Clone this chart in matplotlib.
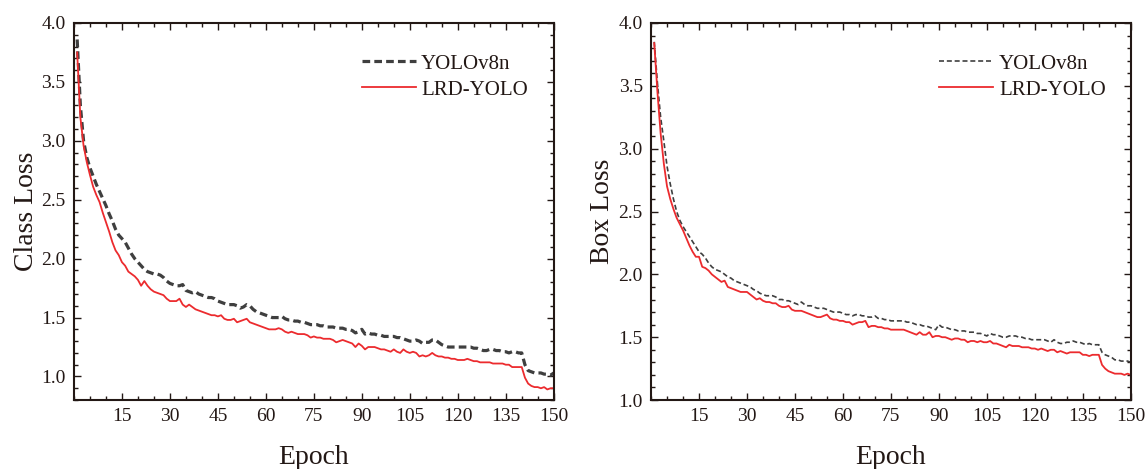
#!/usr/bin/env python3
# -*- coding: utf-8 -*-
"""
Training loss curves: YOLOv8n vs LRD-YOLO (class loss and box loss)
"""
import matplotlib.pyplot as plt
from matplotlib.ticker import MultipleLocator, FormatStrFormatter

epochs = list(range(1, 151))

cls_yolov8n = [
    3.86, 3.30, 3.00, 2.86, 2.77, 2.70, 2.63, 2.57, 2.51, 2.45,
    2.38, 2.32, 2.25, 2.20, 2.17, 2.14, 2.09, 2.04, 2.00, 1.97,
    1.94, 1.91, 1.89, 1.88, 1.87, 1.87, 1.86, 1.84, 1.81, 1.79,
    1.78, 1.77, 1.77, 1.78, 1.73, 1.72, 1.71, 1.72, 1.70, 1.69,
    1.68, 1.67, 1.67, 1.66, 1.64, 1.63, 1.62, 1.61, 1.61, 1.61,
    1.60, 1.58, 1.59, 1.61, 1.60, 1.57, 1.55, 1.54, 1.53, 1.52,
    1.51, 1.50, 1.50, 1.50, 1.51, 1.49, 1.48, 1.48, 1.47, 1.47,
    1.46, 1.46, 1.45, 1.44, 1.44, 1.44, 1.43, 1.43, 1.42, 1.42,
    1.42, 1.41, 1.41, 1.41, 1.40, 1.40, 1.39, 1.37, 1.38, 1.40,
    1.36, 1.37, 1.36, 1.36, 1.35, 1.35, 1.34, 1.34, 1.34, 1.34,
    1.33, 1.33, 1.32, 1.31, 1.30, 1.30, 1.31, 1.30, 1.28, 1.29,
    1.29, 1.31, 1.31, 1.29, 1.27, 1.26, 1.25, 1.25, 1.25, 1.25,
    1.25, 1.25, 1.25, 1.25, 1.24, 1.24, 1.23, 1.22, 1.22, 1.23,
    1.23, 1.22, 1.22, 1.21, 1.21, 1.20, 1.21, 1.21, 1.20, 1.20,
    1.10, 1.05, 1.04, 1.03, 1.03, 1.03, 1.02, 1.02, 1.01, 1.03]

cls_lrd = [
    3.75, 3.20, 2.96, 2.82, 2.71, 2.61, 2.54, 2.48, 2.39, 2.31,
    2.23, 2.14, 2.07, 2.03, 1.97, 1.94, 1.89, 1.87, 1.85, 1.82,
    1.77, 1.81, 1.77, 1.74, 1.72, 1.71, 1.70, 1.69, 1.66, 1.64,
    1.64, 1.64, 1.66, 1.61, 1.59, 1.61, 1.59, 1.57, 1.56, 1.55,
    1.54, 1.53, 1.52, 1.52, 1.51, 1.52, 1.49, 1.48, 1.48, 1.49,
    1.46, 1.47, 1.48, 1.49, 1.46, 1.45, 1.44, 1.43, 1.42, 1.41,
    1.40, 1.40, 1.40, 1.41, 1.40, 1.38, 1.37, 1.38, 1.37, 1.36,
    1.36, 1.36, 1.35, 1.33, 1.34, 1.33, 1.33, 1.32, 1.32, 1.32,
    1.31, 1.29, 1.30, 1.31, 1.30, 1.29, 1.28, 1.25, 1.28, 1.26,
    1.23, 1.25, 1.25, 1.25, 1.24, 1.23, 1.23, 1.22, 1.21, 1.23,
    1.21, 1.20, 1.23, 1.21, 1.20, 1.21, 1.20, 1.17, 1.18, 1.17,
    1.18, 1.20, 1.18, 1.17, 1.17, 1.16, 1.16, 1.15, 1.15, 1.14,
    1.14, 1.14, 1.15, 1.14, 1.13, 1.13, 1.12, 1.12, 1.12, 1.12,
    1.11, 1.11, 1.11, 1.11, 1.10, 1.10, 1.08, 1.08, 1.08, 1.08,
    0.99, 0.94, 0.92, 0.91, 0.91, 0.90, 0.91, 0.89, 0.90, 0.90]

box_yolov8n = [
    3.85, 3.52, 3.25, 3.06, 2.86, 2.72, 2.60, 2.50, 2.43, 2.38,
    2.34, 2.30, 2.26, 2.22, 2.18, 2.16, 2.13, 2.09, 2.06, 2.04,
    2.03, 2.02, 2.00, 1.98, 1.97, 1.95, 1.94, 1.93, 1.92, 1.91,
    1.90, 1.88, 1.87, 1.85, 1.84, 1.83, 1.83, 1.83, 1.82, 1.80,
    1.80, 1.79, 1.79, 1.78, 1.77, 1.76, 1.78, 1.76, 1.75, 1.75,
    1.74, 1.73, 1.73, 1.73, 1.72, 1.71, 1.70, 1.70, 1.70, 1.69,
    1.68, 1.68, 1.67, 1.68, 1.68, 1.67, 1.67, 1.66, 1.66, 1.67,
    1.65, 1.65, 1.64, 1.64, 1.63, 1.63, 1.63, 1.63, 1.63, 1.62,
    1.62, 1.61, 1.60, 1.60, 1.59, 1.59, 1.58, 1.57, 1.56, 1.60,
    1.58, 1.58, 1.57, 1.56, 1.56, 1.55, 1.55, 1.55, 1.54, 1.54,
    1.54, 1.53, 1.53, 1.52, 1.51, 1.53, 1.52, 1.52, 1.51, 1.50,
    1.50, 1.51, 1.51, 1.51, 1.50, 1.50, 1.49, 1.49, 1.48, 1.48,
    1.48, 1.48, 1.48, 1.47, 1.46, 1.48, 1.46, 1.45, 1.45, 1.46,
    1.46, 1.47, 1.46, 1.46, 1.45, 1.44, 1.45, 1.44, 1.44, 1.44,
    1.38, 1.36, 1.35, 1.34, 1.32, 1.32, 1.31, 1.31, 1.31, 1.30]

box_lrd = [
    3.84, 3.45, 3.12, 2.88, 2.70, 2.60, 2.52, 2.45, 2.40, 2.35,
    2.29, 2.23, 2.18, 2.14, 2.14, 2.06, 2.05, 2.03, 2.00, 1.98,
    1.96, 1.94, 1.95, 1.90, 1.89, 1.88, 1.87, 1.86, 1.86, 1.86,
    1.84, 1.82, 1.80, 1.81, 1.79, 1.78, 1.78, 1.77, 1.77, 1.75,
    1.74, 1.74, 1.75, 1.72, 1.71, 1.71, 1.71, 1.70, 1.69, 1.68,
    1.67, 1.66, 1.66, 1.67, 1.68, 1.65, 1.64, 1.64, 1.63, 1.63,
    1.62, 1.62, 1.60, 1.61, 1.62, 1.62, 1.63, 1.58, 1.59, 1.59,
    1.58, 1.58, 1.57, 1.57, 1.56, 1.56, 1.56, 1.56, 1.56, 1.55,
    1.54, 1.53, 1.52, 1.54, 1.52, 1.52, 1.54, 1.50, 1.51, 1.51,
    1.50, 1.50, 1.49, 1.48, 1.49, 1.49, 1.48, 1.48, 1.46, 1.47,
    1.47, 1.46, 1.47, 1.46, 1.46, 1.47, 1.45, 1.45, 1.44, 1.43,
    1.42, 1.44, 1.43, 1.43, 1.43, 1.42, 1.42, 1.42, 1.41, 1.41,
    1.40, 1.41, 1.40, 1.39, 1.40, 1.40, 1.38, 1.39, 1.38, 1.37,
    1.38, 1.38, 1.38, 1.38, 1.36, 1.36, 1.35, 1.36, 1.36, 1.36,
    1.28, 1.25, 1.23, 1.22, 1.21, 1.21, 1.21, 1.20, 1.21, 1.20]

ink = '#231815'
red = '#ec2b2e'
grey = '#3f3f3f'

plt.rcParams['font.family'] = 'serif'
plt.rcParams['font.serif'] = ['Liberation Serif', 'DejaVu Serif']
plt.rcParams['text.color'] = ink
plt.rcParams['axes.labelcolor'] = ink
plt.rcParams['xtick.color'] = ink
plt.rcParams['ytick.color'] = ink


def style_axes(ax, ylabel, ylow, ypad):
    ax.set_xlim(0, 150)
    ax.set_ylim(ylow, 4.0)
    ax.xaxis.set_major_locator(MultipleLocator(15))
    ax.xaxis.set_minor_locator(MultipleLocator(5))
    ax.yaxis.set_major_locator(MultipleLocator(0.5))
    ax.yaxis.set_minor_locator(MultipleLocator(0.1))
    ax.yaxis.set_major_formatter(FormatStrFormatter('%.1f'))
    ax.set_xticks(range(15, 151, 15))
    ax.tick_params(which='both', direction='in', top=True, right=True,
                   width=1.0, labelsize=14, pad=6)
    ax.tick_params(which='major', length=5)
    ax.tick_params(which='minor', length=2.8)
    for sp in ax.spines.values():
        sp.set_linewidth(1.5)
        sp.set_color(ink)
    ax.set_xlabel('Epoch', fontsize=20, labelpad=14)
    ax.set_ylabel(ylabel, fontsize=20, labelpad=ypad)


fig = plt.figure(figsize=(11.45, 4.69), dpi=100)
ax1 = fig.add_axes([0.0646, 0.147, 0.419, 0.804])
ax2 = fig.add_axes([0.5686, 0.147, 0.419, 0.804])

ax1.plot(epochs, cls_yolov8n, color=grey, lw=2.3, dashes=(2.4, 1.3),
         label='YOLOv8n')
ax1.plot(epochs, cls_lrd, color=red, lw=1.3, label='LRD-YOLO')
style_axes(ax1, 'Class Loss', 0.8, 1.5)
ax1.legend(loc='upper right', bbox_to_anchor=(0.985, 0.967), frameon=False,
           fontsize=15, handlelength=2.6, handletextpad=0.25,
           labelspacing=0.3)

ax2.plot(epochs, box_yolov8n, color=grey, lw=1.2, dashes=(3.0, 1.7),
         label='YOLOv8n')
ax2.plot(epochs, box_lrd, color=red, lw=1.3, label='LRD-YOLO')
style_axes(ax2, 'Box Loss', 1.0, 2.5)
ax2.legend(loc='upper right', bbox_to_anchor=(0.987, 0.967), frameon=False,
           fontsize=15, handlelength=2.6, handletextpad=0.3,
           labelspacing=0.3)

plt.savefig('out.png', dpi=100)
